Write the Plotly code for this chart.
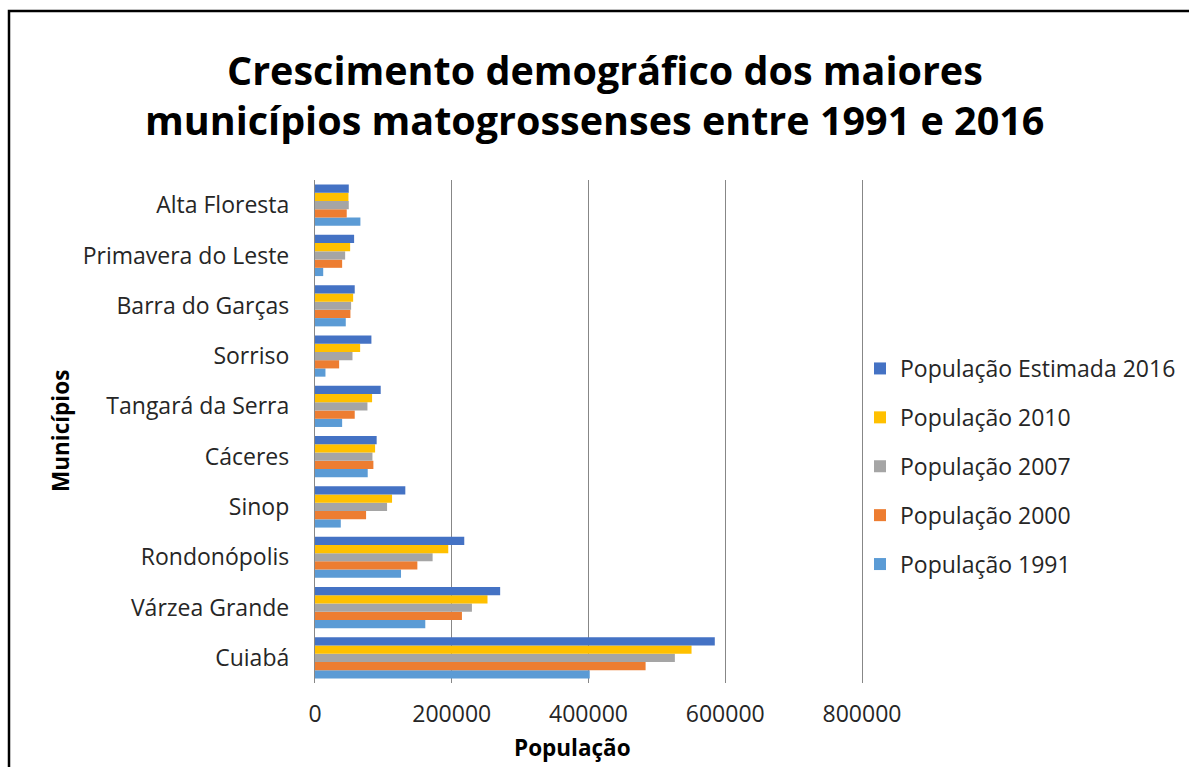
import plotly.graph_objects as go

municipios = ["Cuiabá", "Várzea Grande", "Rondonópolis", "Sinop", "Cáceres",
              "Tangará da Serra", "Sorriso", "Barra do Garças", "Primavera do Leste", "Alta Floresta"]

pop_1991 = [401800, 161300, 125800, 37700, 77100, 39700, 15300, 45000, 12000, 66400]
pop_2000 = [483500, 214900, 149700, 74700, 85400, 58100, 35300, 51800, 39700, 46400]
pop_2007 = [526300, 229500, 172000, 105400, 84000, 76700, 54800, 52800, 44100, 49400]
pop_2010 = [550700, 252300, 194900, 112700, 87900, 83500, 66000, 55800, 51400, 48900]
pop_2016 = [584700, 270800, 218300, 132100, 90200, 96100, 82500, 58100, 57200, 49400]

series_names = ["População 1991", "População 2000", "População 2007", "População 2010",
                "População Estimada 2016"]
series_values = [pop_1991, pop_2000, pop_2007, pop_2010, pop_2016]
series_colors = ["#5B9BD5", "#ED7D31", "#A5A5A5", "#FFC000", "#4472C4"]

x_ticks = [0, 200000, 400000, 600000, 800000]

title_lines = ["Crescimento demográfico dos maiores",
               "municípios matogrossenses entre 1991 e 2016"]

FONT = "Open Sans"

# plot area in pixels
L, R, T, B = 315, 862, 180, 683
W_FIG, H_FIG = 1189, 767


def px_x(p):
    return (p - L) / (R - L)


def px_y(p):
    return (B - p) / (B - T)


fig = go.Figure()
n = len(series_names)
for i, (name, vals, col) in enumerate(zip(series_names, series_values, series_colors)):
    fig.add_trace(go.Bar(
        y=municipios, x=vals, name=name, orientation="h",
        marker=dict(color=col, line=dict(width=0)),
        legendgroup=name, legendrank=n - i,
    ))

annotations = [
    dict(text="<b>%s</b>" % title_lines[0], x=px_x(605), y=px_y(70),
         font=dict(family=FONT, size=39.5, color="black")),
    dict(text="<b>%s</b>" % title_lines[1], x=px_x(594), y=px_y(120),
         font=dict(family=FONT, size=39.5, color="black")),
    dict(text="<b>População</b>", x=px_x(572), y=px_y(747),
         font=dict(family=FONT, size=22.5, color="black")),
    dict(text="<b>Municípios</b>", x=px_x(60), y=px_y(431), textangle=-90,
         font=dict(family=FONT, size=22.5, color="black")),
]
for a in annotations:
    a.update(xref="paper", yref="paper", showarrow=False,
             xanchor="center", yanchor="middle")

fig.update_layout(
    width=W_FIG, height=H_FIG,
    margin=dict(l=L, r=W_FIG - R, t=T, b=H_FIG - B, autoexpand=False),
    paper_bgcolor="white", plot_bgcolor="white",
    barmode="group", bargap=0.18, bargroupgap=0,
    font=dict(family=FONT, size=22, color="#262626"),
    xaxis=dict(
        range=[0, 800000], tickvals=x_ticks, ticktext=[str(v) for v in x_ticks],
        showgrid=True, gridcolor="#878787", gridwidth=1,
        zeroline=False, showline=False, ticks="", automargin=False,
        tickfont=dict(family=FONT, size=23, color="#262626"),
        ticklabelstandoff=15,
    ),
    yaxis=dict(
        showline=True, mirror=True, linecolor="#878787", linewidth=1.3,
        ticks="", showgrid=False, automargin=False,
        tickfont=dict(family=FONT, size=23, color="#262626"),
        ticklabelstandoff=20,
    ),
    legend=dict(
        x=px_x(860), xanchor="left", y=px_y(347), yanchor="top",
        traceorder="grouped", tracegroupgap=16,
        font=dict(family=FONT, size=23, color="#262626"),
        bgcolor="rgba(0,0,0,0)",
    ),
    annotations=annotations,
    shapes=[dict(type="rect", xref="paper", yref="paper",
                 x0=px_x(9), x1=px_x(1220),
                 y0=px_y(800), y1=px_y(11),
                 line=dict(color="black", width=2.5), layer="below")],
)

fig.write_html("out.html", config={"displayModeBar": False},
               post_script="document.body.style.margin='0px';")
